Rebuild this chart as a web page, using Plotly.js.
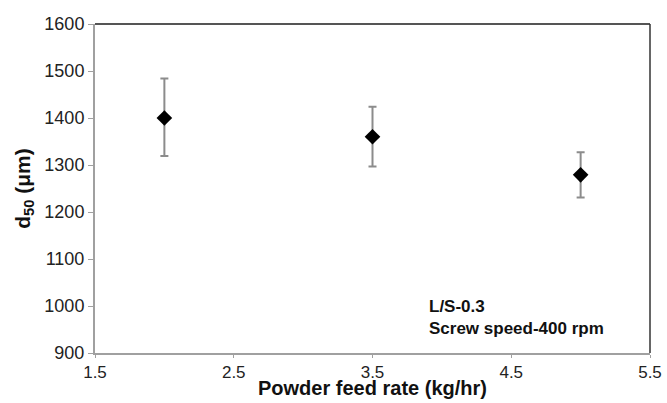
<!DOCTYPE html>
<html>
<head>
<meta charset="utf-8">
<script src="https://cdn.plot.ly/plotly-3.0.1.min.js"></script>
<style>html,body{margin:0;padding:0;background:#fff;}#chart{width:667px;height:403px;}</style>
</head>
<body>
<div id="chart"></div>
<script>
var feedRate = [2.0, 3.5, 5.0];
var d50 = [1400, 1360, 1279];
var errPlus = [84, 64, 48];
var errMinus = [81, 63, 48];
var xTicks = [1.5, 2.5, 3.5, 4.5, 5.5];
var yTicks = [900, 1000, 1100, 1200, 1300, 1400, 1500, 1600];
var xTitle = '<b>Powder feed rate (kg/hr)</b>';

var trace = {
  x: feedRate, y: d50, type: 'scatter', mode: 'markers',
  marker: {symbol: 'diamond', size: 12, color: '#000'},
  error_y: {type: 'data', symmetric: false, array: errPlus, arrayminus: errMinus,
            color: '#8c8c8c', thickness: 2, width: 4}
};

var layout = {
  width: 667, height: 403,
  margin: {l: 95, r: 17, t: 24, b: 50},
  paper_bgcolor: '#fff', plot_bgcolor: '#fff',
  font: {family: 'Liberation Sans, Arial, sans-serif', color: '#222', size: 15},
  showlegend: false,
  xaxis: {
    range: [1.5, 5.5], tickvals: xTicks, ticktext: xTicks.map(function(v){return v.toFixed(1);}),
    showgrid: false, zeroline: false, showline: true, linecolor: '#a0a0a0', linewidth: 2,
    ticks: 'outside', ticklen: 3, tickcolor: '#a0a0a0', tickwidth: 1,
    tickfont: {size: 17, color: '#222'}
  },
  yaxis: {
    range: [900, 1600], tickvals: yTicks,
    showgrid: false, zeroline: false, showline: true, linecolor: '#a0a0a0', linewidth: 2,
    ticks: 'outside', ticklen: 5, tickcolor: '#a0a0a0', tickwidth: 1,
    tickfont: {size: 18, color: '#222'},
    title: {text: '<b>d<sub>50</sub> (μm)</b>', font: {size: 21, color: '#111'}, standoff: 8}
  },
  shapes: [
    {type: 'line', xref: 'paper', yref: 'paper', x0: 0, x1: 1, y0: 1, y1: 1, line: {color: '#555', width: 2}},
    {type: 'line', xref: 'paper', yref: 'paper', x0: 1, x1: 1, y0: 0, y1: 1, line: {color: '#333', width: 1.5}}
  ],
  annotations: [
    {xref: 'paper', yref: 'paper', x: 0.598, y: 0.175, xanchor: 'left', yanchor: 'top', align: 'left',
     showarrow: false, text: '<b>L/S-0.3<br>Screw speed-400 rpm</b>', font: {size: 17, color: '#111'}},
    {xref: 'paper', yref: 'paper', x: 0.5, y: -0.143, xanchor: 'center', yanchor: 'bottom',
     showarrow: false, text: xTitle, font: {size: 20, color: '#111'}, borderpad: 0}
  ]
};

Plotly.newPlot('chart', [trace], layout, {displayModeBar: false, staticPlot: true});
</script>
</body>
</html>
